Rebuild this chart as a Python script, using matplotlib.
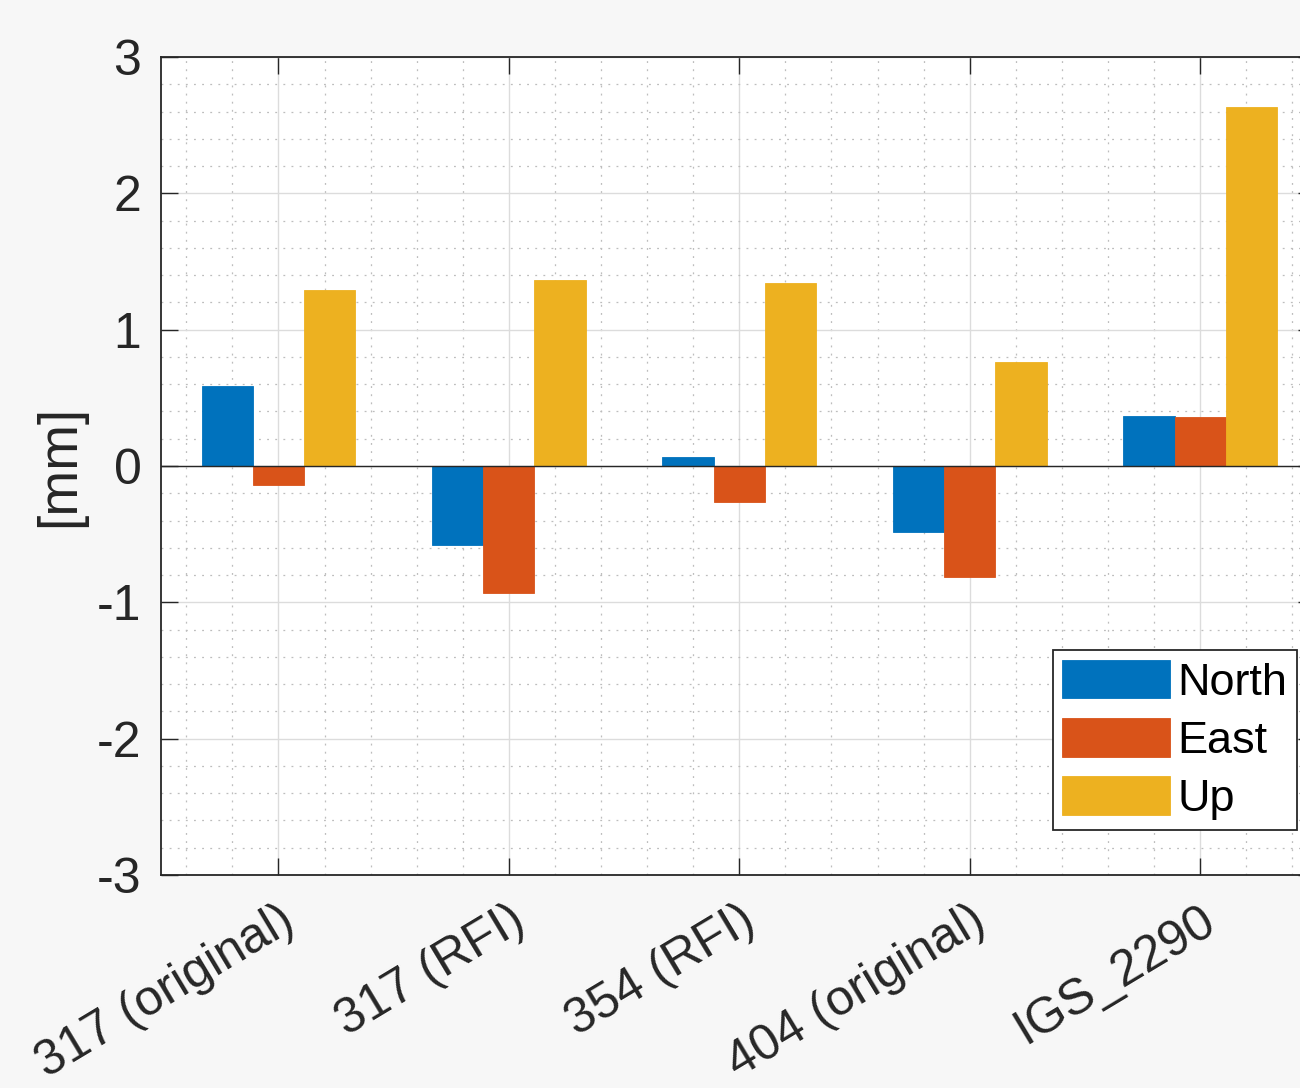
import numpy as np
import matplotlib
matplotlib.use("Agg")
from matplotlib import pyplot as plt
from matplotlib.ticker import MultipleLocator

stations = ["317 (original)", "317 (RFI)", "354 (RFI)", "404 (original)", "IGS_2290"]
north = [0.59, -0.58, 0.066, -0.485, 0.37]
east = [-0.14, -0.935, -0.265, -0.815, 0.36]
up = [1.29, 1.365, 1.345, 0.765, 2.635]

series = [("North", north, "#0072BD"), ("East", east, "#D95319"), ("Up", up, "#EDB120")]

plt.rcParams['font.family'] = ['Liberation Sans', 'DejaVu Sans']
plt.rcParams['axes.unicode_minus'] = False
fs = 36  # tick labels; legend 0.9x, axis label 1.1x

fig = plt.figure(figsize=(13, 10.88), dpi=100, facecolor="#F7F7F7")
ax = fig.add_axes([0.1238, 0.1958, 0.888, 0.7518])

x = np.arange(1, len(stations) + 1)
w = 2 / 9  # grouped bar width for 3 series
for i, (name, vals, col) in enumerate(series):
    ax.bar(x + (i - 1) * w, vals, width=w, color=col, edgecolor=col, linewidth=0.6,
           label=name, zorder=3)
ax.axhline(0, color="#262626", linewidth=1.0, zorder=4)

ax.set_xlim(0.49, 5.5)
ax.set_ylim(-3, 3)
ax.set_xticks(x)
ax.set_xticklabels(stations, rotation=31, ha="right", va="top", rotation_mode="anchor",
                   fontsize=fs, color="#262626")
ax.set_yticks(range(-3, 4))
ax.tick_params(axis="y", labelsize=fs, colors="#262626", pad=14)
ax.tick_params(axis="x", pad=16)
ax.xaxis.set_minor_locator(MultipleLocator(0.2))
ax.yaxis.set_minor_locator(MultipleLocator(0.2))
ax.tick_params(which="major", direction="in", length=12, width=1.0, top=True, right=True,
               color="#262626")
ax.tick_params(which="minor", length=0)
ax.set_ylabel("[mm]", fontsize=fs * 1.1, color="#262626", labelpad=8)

ax.grid(which="major", color="#DCDCDC", linewidth=1.0, zorder=0)
ax.grid(which="minor", color="#BDBDBD", linestyle=(0, (1.5, 5)), linewidth=0.9, zorder=0)
ax.set_axisbelow(True)
for s in ax.spines.values():
    s.set_color("#262626")
    s.set_linewidth(1.3)

leg = ax.legend(loc="lower right", bbox_to_anchor=(1297 / 1300, (1088 - 830) / 1088),
                bbox_transform=fig.transFigure, fontsize=fs * 0.9, frameon=True, fancybox=False,
                handlelength=2.4, handleheight=0.95, handletextpad=0.15, borderpad=0.22,
                labelspacing=0.32, borderaxespad=0)
leg.get_frame().set_edgecolor("#262626")
leg.get_frame().set_linewidth(1.3)
leg.get_frame().set_alpha(1)

fig.savefig("out.png", dpi=100, facecolor=fig.get_facecolor())
